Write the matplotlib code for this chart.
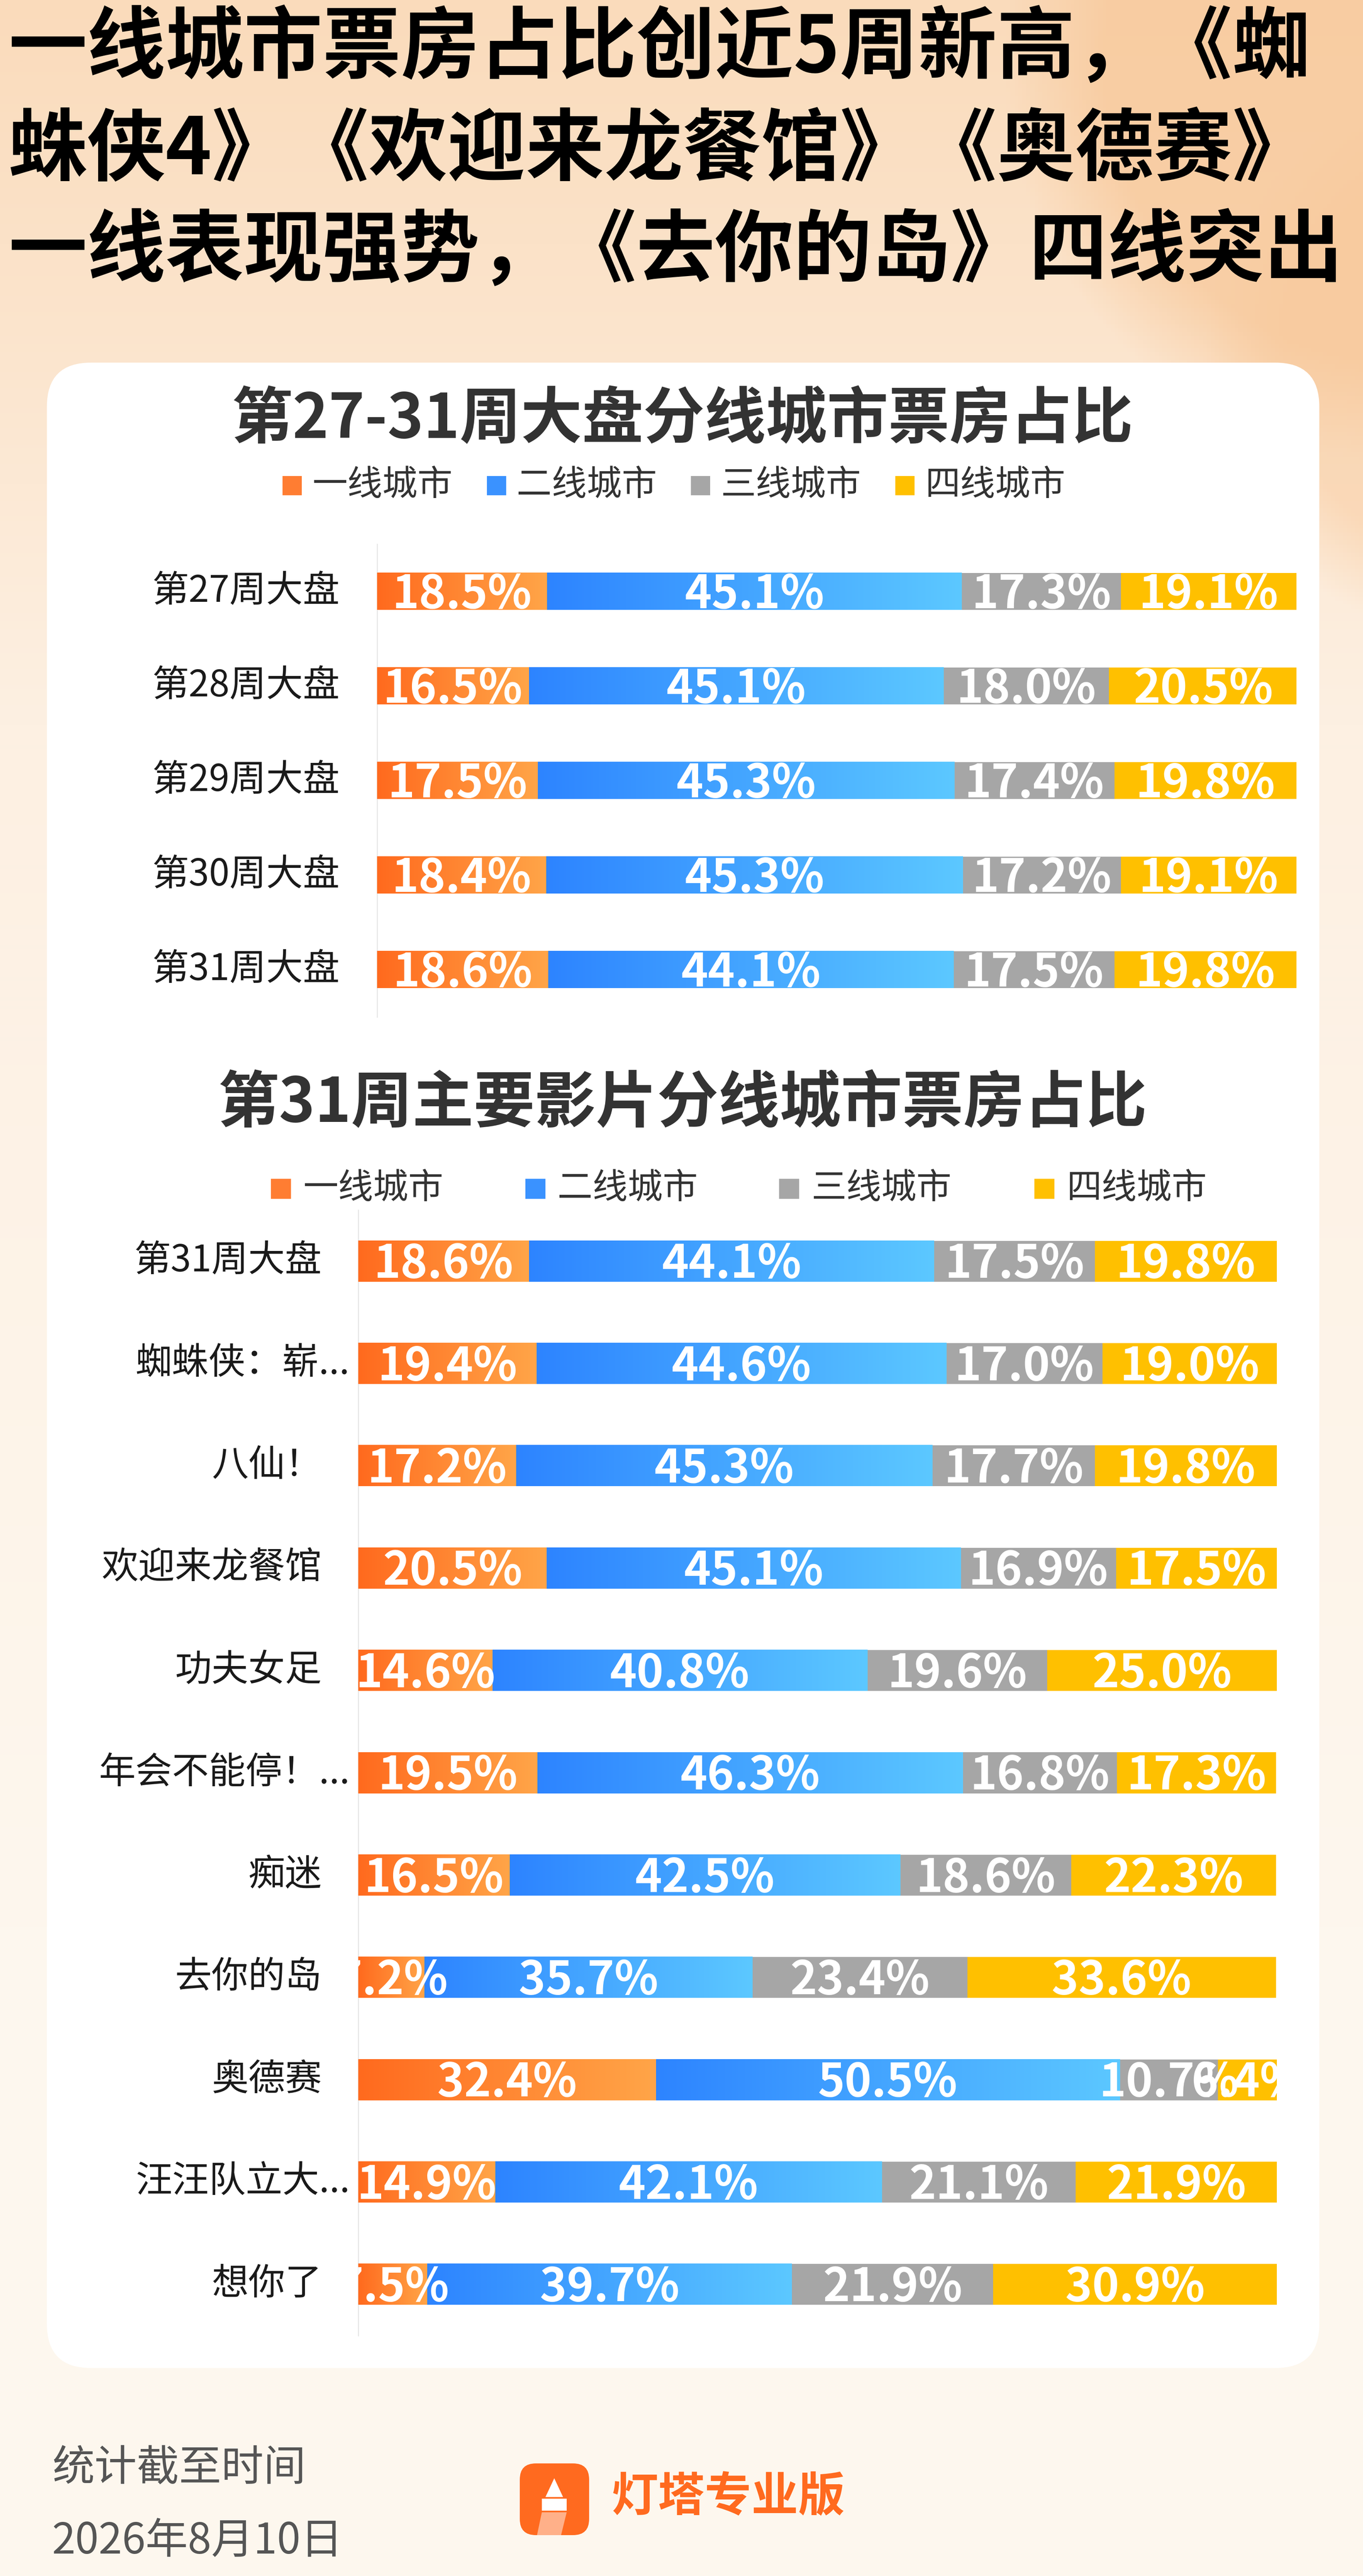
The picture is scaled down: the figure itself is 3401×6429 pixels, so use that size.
import numpy as np
import matplotlib
matplotlib.use('Agg')
import matplotlib.pyplot as plt
import matplotlib.transforms as mtransforms
from matplotlib.colors import LinearSegmentedColormap, to_rgb
from matplotlib.patches import FancyBboxPatch, Rectangle, Polygon

plt.rcParams['font.family'] = ['Noto Sans CJK SC', 'DejaVu Sans']

# ---- data ----
legend_names = ['一线城市', '二线城市', '三线城市', '四线城市']

weeks = ['第27周大盘', '第28周大盘', '第29周大盘', '第30周大盘', '第31周大盘']
week_t1 = [18.5, 16.5, 17.5, 18.4, 18.6]
week_t2 = [45.1, 45.1, 45.3, 45.3, 44.1]
week_t3 = [17.3, 18.0, 17.4, 17.2, 17.5]
week_t4 = [19.1, 20.5, 19.8, 19.1, 19.8]

films = ['第31周大盘', '蜘蛛侠：崭...', '八仙！', '欢迎来龙餐馆', '功夫女足', '年会不能停！...',
         '痴迷', '去你的岛', '奥德赛', '汪汪队立大...', '想你了']
film_t1 = [18.6, 19.4, 17.2, 20.5, 14.6, 19.5, 16.5, 7.2, 32.4, 14.9, 7.5]
film_t2 = [44.1, 44.6, 45.3, 45.1, 40.8, 46.3, 42.5, 35.7, 50.5, 42.1, 39.7]
film_t3 = [17.5, 17.0, 17.7, 16.9, 19.6, 16.8, 18.6, 23.4, 10.7, 21.1, 21.9]
film_t4 = [19.8, 19.0, 19.8, 17.5, 25.0, 17.3, 22.3, 33.6, 6.4, 21.9, 30.9]

headline = ['一线城市票房占比创近5周新高，《蜘',
            '蛛侠4》《欢迎来龙餐馆》《奥德赛》',
            '一线表现强势，《去你的岛》四线突出']

W, H = 3401, 6429
fig = plt.figure(figsize=(W / 100, H / 100), dpi=100)

# ---- background ----
bg = fig.add_axes([0, 0, 1, 1], zorder=0)
bg.set_xlim(0, W)
bg.set_ylim(H, 0)
bg.axis('off')

gh, gw = 643, 340
yy, xx = np.mgrid[0:gh, 0:gw]
yy = yy * (H / gh)
xx = xx * (W / gw)
top = np.array(to_rgb('#FADBBB'))
mid = np.array(to_rgb('#FDF0E2'))
bot = np.array(to_rgb('#FDF7EE'))
t = np.clip(yy / 1800, 0, 1)[..., None]
img = top * (1 - t) + mid * t
t2 = np.clip((yy - 1800) / 3000, 0, 1)[..., None]
img = img * (1 - t2) + bot * t2
blob = np.array(to_rgb('#F8C89A'))
d = np.sqrt((xx - 3500) ** 2 + (yy - 150) ** 2)
b = np.clip((1000 - d) / 250, 0, 1)[..., None] * 0.75
img = img * (1 - b) + blob * b
d2 = np.sqrt((xx - 3700) ** 2 + (yy - 900) ** 2)
b2 = np.clip((700 - d2) / 200, 0, 1)[..., None] * 0.5
img = img * (1 - b2) + blob * b2
bg.imshow(img, extent=(0, W, H, 0), aspect='auto', zorder=0)

bg.add_patch(FancyBboxPatch((117, 905), 3175, 5005,
                            boxstyle='round,pad=0,rounding_size=110',
                            facecolor='white', edgecolor='none', zorder=1))

for i, line in enumerate(headline):
    bg.text(22, [122, 377, 630][i], line, fontsize=141, fontweight='heavy',
            color='black', ha='left', va='center', zorder=2)

bg.text(1703, 1048, '第27-31周大盘分线城市票房占比', fontsize=110, fontweight='bold',
        color='#333333', ha='center', va='center', zorder=2)
bg.text(1703, 2755, '第31周主要影片分线城市票房占比', fontsize=110, fontweight='bold',
        color='#333333', ha='center', va='center', zorder=2)

leg_colors = ['#FF7D32', '#3A92FF', '#A6A6A6', '#FFC000']
for xs, yc, sq, gap in [([705, 1215, 1724, 2234], 1212, 48, 74),
                        ([676, 1311, 1944, 2581], 2967, 50, 80)]:
    for x0, name, c in zip(xs, legend_names, leg_colors):
        bg.add_patch(Rectangle((x0, yc - sq / 2), sq, sq, facecolor=c,
                               edgecolor='none', zorder=2))
        bg.text(x0 + gap, yc, name, fontsize=63, color='#333333',
                ha='left', va='center', zorder=2)

# footer
bg.text(130, 6162, '统计截至时间', fontsize=76, color='#555555', ha='left', va='center', zorder=2)
bg.text(130, 6342, '2026年8月10日', fontsize=76, color='#555555', ha='left', va='center', zorder=2)
bg.add_patch(FancyBboxPatch((1297, 6148), 173, 179,
                            boxstyle='round,pad=0,rounding_size=40',
                            facecolor='#FF6A1F', edgecolor='none', zorder=2))
bg.add_patch(Polygon([(1383, 6185), (1405, 6232), (1361, 6232)], closed=True,
                     facecolor='white', edgecolor='none', zorder=3))
bg.add_patch(Rectangle((1352, 6236), 62, 30, facecolor='white', edgecolor='none', zorder=3))
bg.add_patch(Polygon([(1352, 6270), (1414, 6270), (1400, 6327), (1340, 6327)], closed=True,
                     facecolor='#FFB089', edgecolor='none', zorder=3))
bg.text(1525, 6233, '灯塔专业版', fontsize=84, color='#FF6A1F', fontweight='bold',
        ha='left', va='center', zorder=2)

# ---- bar charts ----
orange_cmap = LinearSegmentedColormap.from_list('org', ['#FF6A1E', '#FFA548'])
blue_cmap = LinearSegmentedColormap.from_list('blu', ['#2D84FF', '#5CC8FF'])
grad = np.linspace(0, 1, 256).reshape(1, -1)


def stacked(ax, labels, s1, s2, s3, s4, bar_h, label_x, trunc_x):
    n = len(labels)
    ypos = np.arange(n)
    series = [s1, s2, s3, s4]
    solid = ['#FF7D32', '#3A92FF', '#A6A6A6', '#FFC000']
    down = ax.transData + mtransforms.ScaledTranslation(0, -30 / 72, fig.dpi_scale_trans)
    left = np.zeros(n)
    for k, vals in enumerate(series):
        vals = np.array(vals)
        bars = ax.barh(ypos, vals, left=left, height=bar_h, color=solid[k],
                       edgecolor='none', zorder=2)
        if k < 2:
            cmap = orange_cmap if k == 0 else blue_cmap
            for p in bars.patches:
                x0, y0 = p.get_x(), p.get_y()
                ax.imshow(grad, cmap=cmap, aspect='auto', zorder=3,
                          extent=(x0, x0 + p.get_width(), y0, y0 + p.get_height()))
        for y, l, v in zip(ypos, left, vals):
            ax.text(l + v / 2, y, f'{v:.1f}%', color='white', fontsize=82,
                    fontweight='bold', ha='center', va='baseline', zorder=5,
                    clip_on=True, transform=down)
        left = left + vals
    ax.set_xlim(0, 100)
    ax.set_ylim(n - 0.5, -0.5)
    ax.set_yticks([])
    ax.set_xticks([])
    ylab = mtransforms.blended_transform_factory(ax.transAxes, ax.transData)
    for y, name in zip(ypos, labels):
        x = trunc_x if name.endswith('...') else label_x
        ax.text(x, y, name, fontsize=66, color='#1A1A1A', ha='right', va='center',
                transform=ylab, clip_on=False)
    for s in ['top', 'right', 'bottom']:
        ax.spines[s].set_visible(False)
    ax.spines['left'].set_color('#E8E8E8')
    ax.spines['left'].set_linewidth(2)
    ax.patch.set_alpha(0)


ax1 = fig.add_axes([941 / W, 1 - 2538 / H, 2294 / W, 1180 / H], zorder=2)
stacked(ax1, weeks, week_t1, week_t2, week_t3, week_t4, 0.39,
        (848 - 941) / 2294, (848 - 941) / 2294)

ax2 = fig.add_axes([894 / W, 1 - 5829 / H, 2292 / W, 2809 / H], zorder=2)
stacked(ax2, films, film_t1, film_t2, film_t3, film_t4, 0.40,
        (803 - 894) / 2292, (873 - 894) / 2292)

fig.savefig('out.png', dpi=100)
